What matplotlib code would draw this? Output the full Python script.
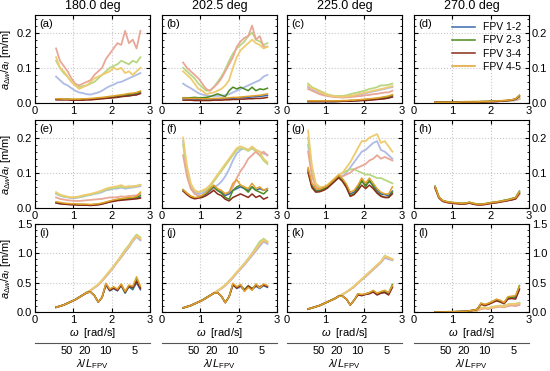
import matplotlib
matplotlib.use("Agg")
import matplotlib.pyplot as plt
import numpy as np
from matplotlib.ticker import AutoMinorLocator, MultipleLocator

plt.rcParams['font.family'] = ['Liberation Sans', 'DejaVu Sans']
plt.rcParams['mathtext.fontset'] = 'custom'
plt.rcParams['mathtext.rm'] = 'Liberation Sans'
plt.rcParams['mathtext.it'] = 'Liberation Sans:italic'

# frequency grid (rad/s)
w = np.arange(0.55, 2.76, 0.1)

headings = ["180.0 deg", "202.5 deg", "225.0 deg", "270.0 deg"]
pairs = ["FPV 1-2", "FPV 2-3", "FPV 3-4", "FPV 4-5"]
dark_cols = ['#3a68b0', '#4a8a1e', '#8a2c1a', '#e1a12c']
light_cols = ['#aebbe6', '#b7d781', '#e9a797', '#efcb70']
L_fpv = 1.84
lam_ticks = [50, 20, 10, 5]

# order in each list: FPV 1-2, 2-3, 3-4, 4-5
a_light = [
    [.075,.065,.055,.05,.042,.035,.03,.028,.025,.024,.027,.03,.035,.042,.048,.052,.058,.06,.065,.07,.075,.08,.085],
    [.12,.10,.085,.075,.06,.05,.045,.048,.05,.055,.06,.07,.08,.09,.10,.105,.11,.12,.115,.11,.12,.115,.13],
    [.155,.12,.105,.09,.07,.055,.05,.055,.06,.065,.08,.09,.10,.125,.14,.155,.17,.165,.205,.17,.18,.155,.205],
    [.13,.10,.09,.075,.06,.05,.04,.045,.05,.06,.07,.075,.08,.085,.09,.10,.095,.10,.085,.09,.08,.09,.10]]
a_dark = [
    [.010,.010,.010,.010,.009,.009,.009,.009,.010,.010,.011,.012,.013,.014,.015,.016,.017,.019,.020,.021,.022,.024,.028],
    [.011,.011,.010,.011,.010,.010,.010,.011,.011,.012,.012,.013,.014,.016,.017,.018,.020,.021,.023,.024,.026,.028,.032],
    [.009,.009,.009,.009,.008,.008,.008,.008,.009,.009,.010,.011,.012,.013,.014,.015,.016,.018,.019,.020,.022,.023,.027],
    [.012,.012,.011,.011,.011,.011,.011,.012,.012,.013,.014,.015,.016,.017,.019,.020,.022,.023,.025,.027,.028,.030,.034]]

b_light = [
    [.055,.048,.042,.035,.028,.024,.022,.020,.020,.020,.021,.022,.025,.030,.035,.040,.045,.050,.055,.060,.065,.075,.080],
    [.10,.09,.08,.07,.055,.045,.035,.035,.045,.06,.075,.095,.12,.14,.155,.165,.175,.19,.20,.18,.175,.165,.17],
    [.115,.10,.09,.08,.07,.055,.04,.035,.045,.055,.07,.09,.11,.13,.16,.175,.185,.19,.22,.18,.19,.16,.16],
    [.09,.08,.07,.055,.04,.035,.025,.028,.03,.035,.04,.05,.065,.10,.13,.15,.16,.17,.18,.17,.165,.155,.16]]
b_dark = [
    [.012,.012,.011,.011,.010,.010,.010,.010,.011,.011,.012,.012,.013,.013,.014,.015,.015,.016,.017,.018,.019,.020,.022],
    [.015,.015,.015,.016,.015,.015,.016,.018,.022,.026,.022,.018,.035,.045,.040,.045,.040,.035,.045,.035,.040,.038,.042],
    [.008,.008,.008,.007,.007,.007,.007,.007,.008,.008,.008,.009,.009,.010,.010,.011,.011,.012,.012,.013,.013,.014,.016],
    [.014,.014,.013,.013,.013,.012,.012,.012,.013,.013,.014,.014,.015,.016,.016,.017,.018,.019,.020,.021,.022,.024,.026]]

c_light = [
    [.045,.04,.035,.03,.025,.022,.02,.018,.017,.016,.017,.018,.02,.022,.025,.028,.03,.033,.035,.038,.04,.043,.045],
    [.055,.045,.04,.035,.03,.025,.022,.02,.02,.02,.022,.025,.028,.03,.033,.036,.04,.042,.045,.05,.05,.052,.055],
    [.04,.035,.03,.025,.022,.02,.018,.017,.016,.016,.016,.017,.018,.019,.02,.022,.023,.025,.026,.028,.03,.03,.035],
    [.05,.042,.038,.032,.027,.023,.02,.019,.018,.018,.019,.02,.022,.025,.027,.03,.032,.035,.037,.04,.042,.045,.048]]
c_dark = [
    [.004,.004,.004,.004,.004,.004,.004,.004,.005,.005,.005,.006,.006,.007,.008,.008,.009,.010,.011,.012,.013,.015,.018],
    [.005,.005,.005,.005,.005,.005,.005,.005,.006,.006,.006,.007,.007,.008,.009,.010,.011,.012,.013,.014,.016,.018,.022],
    [.004,.004,.004,.004,.004,.004,.004,.004,.004,.005,.005,.005,.006,.006,.007,.007,.008,.009,.010,.011,.012,.014,.017],
    [.006,.006,.006,.006,.006,.006,.006,.006,.006,.007,.007,.008,.008,.009,.010,.011,.012,.013,.014,.016,.018,.020,.024]]

d_light = [
    [.003,.003,.003,.003,.003,.003,.003,.003,.003,.003,.003,.003,.004,.004,.004,.005,.005,.005,.006,.006,.007,.008,.012],
    [.003,.003,.003,.003,.003,.003,.003,.003,.003,.003,.004,.004,.004,.004,.005,.005,.005,.006,.006,.007,.008,.009,.013],
    [.002,.002,.002,.002,.002,.002,.002,.002,.002,.003,.003,.003,.003,.004,.004,.004,.005,.005,.005,.006,.007,.008,.011],
    [.003,.003,.003,.003,.003,.003,.003,.003,.004,.004,.004,.004,.004,.005,.005,.005,.006,.006,.007,.007,.008,.010,.014]]
d_dark = [
    [.002,.002,.002,.002,.002,.002,.002,.002,.003,.003,.003,.003,.003,.004,.004,.004,.005,.005,.006,.007,.008,.010,.018],
    [.002,.002,.002,.002,.002,.002,.002,.003,.003,.003,.003,.003,.004,.004,.004,.005,.005,.006,.006,.007,.009,.011,.022],
    [.002,.002,.002,.002,.002,.002,.002,.002,.002,.003,.003,.003,.003,.003,.004,.004,.004,.005,.006,.007,.008,.012,.020],
    [.002,.002,.002,.002,.002,.002,.002,.003,.003,.003,.003,.003,.004,.004,.004,.005,.006,.006,.007,.008,.009,.012,.021]]

e_light = [
    [.04,.035,.032,.03,.028,.028,.03,.032,.035,.037,.04,.042,.045,.05,.052,.055,.055,.058,.055,.057,.058,.06,.062],
    [.042,.036,.033,.031,.03,.03,.031,.034,.036,.038,.041,.044,.048,.052,.055,.057,.058,.06,.058,.06,.062,.063,.066],
    [.03,.026,.024,.022,.021,.02,.02,.021,.022,.023,.024,.025,.026,.028,.03,.03,.031,.033,.032,.034,.035,.036,.04],
    [.045,.038,.035,.032,.03,.031,.033,.036,.038,.04,.043,.046,.05,.055,.058,.06,.062,.065,.06,.062,.06,.063,.065]]
e_dark = [
    [.015,.013,.012,.011,.01,.01,.009,.009,.009,.008,.009,.01,.012,.015,.018,.02,.022,.024,.025,.026,.027,.028,.03],
    [.016,.014,.012,.011,.011,.01,.01,.01,.009,.009,.01,.011,.013,.016,.019,.021,.024,.025,.026,.028,.028,.03,.035],
    [.014,.012,.011,.01,.009,.009,.008,.008,.008,.007,.008,.009,.011,.014,.017,.019,.021,.022,.023,.024,.025,.026,.028],
    [.018,.016,.014,.013,.012,.012,.011,.011,.011,.01,.011,.012,.014,.017,.02,.023,.025,.027,.028,.03,.03,.033,.045]]

f_light = [
    [.19,.10,.06,.045,.04,.042,.048,.055,.06,.065,.075,.09,.11,.135,.155,.165,.17,.165,.17,.165,.16,.155,.15],
    [.18,.11,.065,.05,.045,.048,.053,.06,.075,.09,.105,.12,.135,.15,.165,.17,.168,.162,.17,.16,.15,.135,.125],
    [.15,.09,.055,.04,.035,.035,.04,.045,.055,.05,.045,.04,.045,.06,.085,.105,.12,.14,.15,.16,.15,.16,.15],
    [.20,.12,.07,.05,.045,.05,.055,.065,.08,.095,.11,.125,.14,.155,.17,.175,.17,.165,.175,.165,.16,.14,.13]]
f_dark = [
    [.05,.04,.032,.028,.03,.033,.04,.05,.06,.05,.045,.035,.04,.05,.055,.06,.055,.05,.06,.05,.055,.05,.055],
    [.052,.042,.033,.028,.03,.034,.042,.052,.062,.05,.042,.03,.025,.05,.06,.065,.055,.045,.06,.05,.045,.04,.05],
    [.048,.038,.03,.026,.028,.03,.035,.042,.05,.04,.035,.025,.02,.03,.035,.04,.035,.03,.04,.03,.035,.025,.03],
    [.052,.042,.034,.03,.031,.036,.044,.055,.065,.055,.05,.04,.045,.07,.08,.065,.06,.055,.07,.055,.06,.05,.055]]

g_light = [
    [.18,.10,.065,.055,.058,.063,.072,.082,.09,.09,.10,.115,.13,.145,.16,.165,.175,.185,.19,.165,.16,.15,.14],
    [.20,.11,.065,.055,.058,.063,.072,.082,.092,.10,.105,.11,.11,.105,.10,.095,.095,.09,.085,.085,.08,.075,.07],
    [.16,.09,.06,.055,.057,.062,.07,.08,.09,.09,.095,.10,.11,.115,.12,.125,.135,.14,.15,.14,.145,.14,.135],
    [.22,.12,.07,.06,.06,.065,.075,.085,.095,.10,.115,.13,.15,.17,.19,.19,.20,.205,.21,.185,.19,.175,.16]]
g_dark = [
    [.11,.065,.05,.05,.055,.06,.07,.08,.09,.08,.065,.04,.045,.06,.075,.065,.075,.065,.05,.04,.038,.035,.048],
    [.105,.06,.048,.048,.053,.058,.068,.078,.088,.078,.06,.035,.04,.055,.08,.06,.08,.06,.045,.035,.03,.03,.045],
    [.10,.058,.045,.046,.05,.056,.066,.076,.086,.075,.058,.033,.038,.05,.065,.055,.065,.055,.042,.033,.03,.03,.04],
    [.115,.07,.055,.053,.058,.063,.073,.083,.093,.083,.068,.045,.05,.065,.085,.07,.085,.07,.055,.045,.04,.04,.06]]

h_light = [
    [.058,.03,.02,.017,.015,.014,.013,.012,.013,.015,.012,.01,.01,.011,.013,.015,.016,.018,.02,.022,.024,.027,.04],
    [.06,.031,.021,.018,.016,.015,.014,.013,.014,.016,.013,.011,.011,.012,.014,.016,.017,.019,.021,.023,.026,.029,.044],
    [.055,.028,.019,.016,.014,.013,.012,.011,.012,.014,.011,.009,.009,.01,.012,.014,.015,.017,.019,.021,.023,.026,.038],
    [.06,.031,.021,.018,.016,.015,.014,.013,.014,.016,.013,.011,.011,.012,.014,.016,.017,.019,.021,.023,.025,.028,.042]]
h_dark = [
    [.06,.03,.02,.017,.015,.014,.013,.012,.013,.015,.012,.01,.01,.011,.013,.015,.016,.018,.02,.022,.024,.027,.045],
    [.062,.031,.021,.018,.016,.015,.014,.013,.014,.016,.013,.011,.011,.012,.014,.016,.017,.019,.022,.024,.027,.03,.048],
    [.058,.029,.019,.016,.014,.013,.012,.011,.012,.014,.011,.009,.009,.01,.012,.014,.015,.017,.019,.021,.023,.026,.042],
    [.061,.031,.021,.018,.016,.015,.014,.013,.014,.016,.013,.011,.011,.012,.014,.016,.017,.019,.021,.023,.026,.029,.046]]

i_light = [
    [.08,.1,.12,.15,.18,.21,.25,.29,.33,.37,.41,.46,.53,.6,.68,.76,.85,.93,1.02,1.1,1.2,1.28,1.22],
    [.08,.1,.12,.15,.18,.21,.25,.29,.33,.37,.42,.47,.54,.62,.7,.78,.87,.96,1.06,1.14,1.24,1.32,1.27],
    [.08,.1,.12,.15,.18,.21,.25,.29,.33,.37,.42,.46,.53,.61,.69,.77,.86,.94,1.04,1.12,1.22,1.3,1.24],
    [.08,.1,.12,.15,.18,.21,.25,.29,.33,.37,.42,.47,.54,.62,.7,.77,.86,.95,1.05,1.12,1.22,1.3,1.25]]
i_dark = [
    [.08,.1,.12,.15,.18,.21,.25,.29,.33,.34,.28,.17,.25,.46,.36,.4,.36,.45,.32,.43,.38,.5,.38],
    [.08,.1,.12,.15,.18,.21,.25,.29,.33,.34,.28,.17,.25,.48,.38,.42,.38,.47,.33,.45,.4,.55,.42],
    [.08,.1,.12,.15,.18,.21,.25,.29,.33,.34,.28,.17,.25,.47,.37,.41,.37,.46,.34,.44,.42,.52,.4],
    [.08,.1,.12,.15,.18,.21,.25,.29,.33,.34,.28,.17,.25,.49,.39,.43,.39,.48,.35,.46,.44,.6,.44]]

j_light = [
    [.07,.09,.11,.14,.17,.2,.24,.28,.32,.36,.4,.45,.51,.58,.66,.73,.8,.88,.96,1.04,1.12,1.2,1.16],
    [.07,.09,.11,.14,.17,.2,.24,.28,.32,.36,.41,.46,.53,.6,.68,.75,.83,.91,1.0,1.1,1.2,1.25,1.2],
    [.07,.09,.11,.14,.17,.2,.24,.28,.32,.36,.4,.45,.52,.59,.67,.74,.82,.9,.98,1.06,1.15,1.22,1.18],
    [.07,.09,.11,.14,.17,.2,.24,.28,.32,.36,.41,.46,.52,.6,.67,.75,.82,.9,.99,1.07,1.16,1.23,1.19]]
j_dark = [
    [.07,.09,.11,.14,.17,.2,.24,.28,.32,.33,.27,.16,.26,.47,.4,.44,.36,.43,.38,.44,.4,.45,.42],
    [.07,.09,.11,.14,.17,.2,.24,.28,.32,.33,.27,.16,.26,.48,.42,.46,.38,.45,.4,.46,.42,.47,.44],
    [.07,.09,.11,.14,.17,.2,.24,.28,.32,.33,.27,.16,.26,.46,.41,.45,.37,.44,.39,.45,.43,.46,.43],
    [.07,.09,.11,.14,.17,.2,.24,.28,.32,.33,.27,.16,.26,.49,.43,.47,.35,.42,.37,.48,.41,.48,.45]]

k_light = [
    [.05,.07,.09,.11,.14,.17,.2,.23,.27,.3,.34,.38,.43,.49,.55,.6,.66,.72,.78,.84,.92,.9,.88],
    [.05,.07,.09,.11,.14,.17,.2,.23,.27,.3,.34,.39,.44,.5,.56,.62,.68,.74,.8,.86,.96,.93,.9],
    [.05,.07,.09,.11,.14,.17,.2,.23,.27,.3,.34,.38,.43,.49,.55,.61,.67,.73,.79,.85,.94,.92,.89],
    [.05,.07,.09,.11,.14,.17,.2,.23,.27,.3,.34,.39,.44,.5,.56,.62,.68,.74,.8,.86,.95,.93,.9]]
k_dark = [
    [.05,.07,.09,.11,.14,.17,.2,.23,.27,.27,.22,.12,.2,.3,.28,.3,.32,.35,.3,.33,.34,.3,.43],
    [.05,.07,.09,.11,.14,.17,.2,.23,.27,.27,.22,.12,.2,.31,.29,.31,.33,.36,.31,.34,.36,.32,.47],
    [.05,.07,.09,.11,.14,.17,.2,.23,.27,.27,.22,.12,.2,.29,.28,.3,.31,.34,.29,.32,.33,.29,.42],
    [.05,.07,.09,.11,.14,.17,.2,.23,.27,.27,.22,.12,.2,.31,.3,.31,.33,.37,.32,.35,.37,.33,.45]]

l_light = [
    [0,0,0,.002,.003,.004,.005,.007,.01,.015,.02,.025,.06,.07,.06,.08,.09,.1,.09,.12,.13,.13,.14],
    [0,0,0,.002,.003,.004,.005,.007,.01,.015,.02,.028,.07,.08,.07,.09,.1,.11,.1,.13,.14,.14,.16],
    [0,0,0,.002,.003,.004,.005,.007,.01,.014,.018,.022,.05,.06,.05,.07,.08,.09,.08,.1,.11,.1,.12],
    [0,0,0,.002,.003,.004,.005,.007,.01,.015,.02,.027,.065,.075,.065,.085,.095,.105,.095,.125,.135,.135,.15]]
l_dark = [
    [0,0,0,.002,.003,.004,.006,.008,.012,.02,.03,.045,.14,.12,.14,.17,.2,.18,.15,.23,.24,.24,.4],
    [0,0,0,.002,.003,.004,.006,.008,.012,.02,.03,.048,.15,.12,.15,.18,.21,.19,.16,.25,.25,.26,.45],
    [0,0,0,.002,.003,.004,.006,.008,.012,.02,.03,.044,.13,.11,.13,.16,.19,.17,.14,.22,.23,.22,.38],
    [0,0,0,.002,.003,.004,.006,.008,.012,.02,.03,.046,.15,.13,.15,.18,.22,.2,.16,.26,.27,.28,.44]]

panels = [[(a_light, a_dark), (b_light, b_dark), (c_light, c_dark), (d_light, d_dark)],
          [(e_light, e_dark), (f_light, f_dark), (g_light, g_dark), (h_light, h_dark)],
          [(i_light, i_dark), (j_light, j_dark), (k_light, k_dark), (l_light, l_dark)]]
letters = "abcdefghijkl"

fig = plt.figure(figsize=(5.5, 3.71), dpi=100)
lefts = [35, 162, 287, 414]
tops = [15, 120, 224]
aw, ah = 115, 88

for r in range(3):
    for c in range(4):
        ax = fig.add_axes([lefts[c] / 550, 1 - (tops[r] + ah) / 371, aw / 550, ah / 371])
        light, dark = panels[r][c]
        for k in range(4):
            ax.plot(w, light[k], color=light_cols[k], lw=1.3)
        for k in range(4):
            ax.plot(w, dark[k], color=dark_cols[k], lw=1.1, label=pairs[k])

        ax.set_xlim(0, 3)
        ax.xaxis.set_major_locator(MultipleLocator(1))
        if r < 2:
            ax.set_ylim(0, 0.25)
            ax.yaxis.set_major_locator(MultipleLocator(0.1))
            ax.yaxis.set_minor_locator(MultipleLocator(0.02))
        else:
            ax.set_ylim(0, 1.5)
            ax.yaxis.set_major_locator(MultipleLocator(0.5))
            ax.yaxis.set_minor_locator(MultipleLocator(0.1))
        ax.grid(True, color='#c8c8c8', ls=':', lw=0.8)
        ax.tick_params(which='both', direction='in', top=True, right=True,
                       labelsize=8, pad=2)
        ax.tick_params(which='major', length=3)
        ax.tick_params(which='minor', length=1.5)
        if c == 0:
            ax.set_ylabel(r'$a_{\Delta w}/a_{I}$ [m/m]', fontsize=8, labelpad=3)
        elif c == 3:
            ax.tick_params(labelleft=False, labelright=True)
        else:
            ax.tick_params(labelleft=False)
        ax.text(0.04, 0.96, '(' + letters[r * 4 + c] + ')', transform=ax.transAxes,
                ha='left', va='top', fontsize=8)
        if r == 0:
            ax.set_title(headings[c], fontsize=9, pad=4)
        if r == 2:
            ax.set_xlabel(r'$\omega$  [rad/s]', fontsize=8, labelpad=1)
            sec = ax.secondary_xaxis(-0.35)
            sec.set_xticks(np.sqrt(2 * np.pi * 9.81 / (L_fpv * np.array(lam_ticks))),
                           [str(t) for t in lam_ticks])
            sec.tick_params(direction='out', length=0, labelsize=8, pad=2)
            sec.spines['bottom'].set_color('#555555')
            sec.set_xlabel(r'$\lambda/L_{\mathrm{FPV}}$', fontsize=8, labelpad=1)
        if r == 0 and c == 3:
            ax.legend(loc='upper right', frameon=False, fontsize=7.5,
                      handlelength=2.2, labelspacing=0.3, borderaxespad=0.3)

fig.savefig('out.png', dpi=100)
